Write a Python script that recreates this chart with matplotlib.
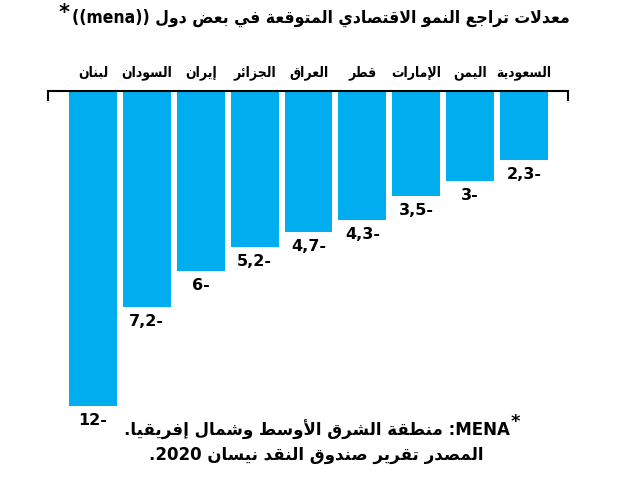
import re
import matplotlib
matplotlib.use('Agg')
import matplotlib.pyplot as plt
import numpy as np

plt.rcParams['font.family'] = ['DejaVu Sans']

# data, listed right to left as in the original chart
countries = ['السعودية', 'اليمن', 'الإمارات', 'قطر', 'العراق', 'الجزائر', 'إيران', 'السودان', 'لبنان']
growth = [-2.3, -3, -3.5, -4.3, -4.7, -5.2, -6, -7.2, -12]
title = 'معدلات تراجع النمو الاقتصادي المتوقعة في بعض دول ((mena))'
note = 'MENA: منطقة الشرق الأوسط وشمال إفريقيا.'
source = 'المصدر تقرير صندوق النقد نيسان 2020.'

# minimal arabic shaping: letter -> (first presentation form, number of forms)
FORMS = {
    'ء': (0xFE80, 1), 'آ': (0xFE81, 2), 'أ': (0xFE83, 2), 'ؤ': (0xFE85, 2),
    'إ': (0xFE87, 2), 'ئ': (0xFE89, 4), 'ا': (0xFE8D, 2), 'ب': (0xFE8F, 4),
    'ة': (0xFE93, 2), 'ت': (0xFE95, 4), 'ث': (0xFE99, 4), 'ج': (0xFE9D, 4),
    'ح': (0xFEA1, 4), 'خ': (0xFEA5, 4), 'د': (0xFEA9, 2), 'ذ': (0xFEAB, 2),
    'ر': (0xFEAD, 2), 'ز': (0xFEAF, 2), 'س': (0xFEB1, 4), 'ش': (0xFEB5, 4),
    'ص': (0xFEB9, 4), 'ض': (0xFEBD, 4), 'ط': (0xFEC1, 4), 'ظ': (0xFEC5, 4),
    'ع': (0xFEC9, 4), 'غ': (0xFECD, 4), 'ف': (0xFED1, 4), 'ق': (0xFED5, 4),
    'ك': (0xFED9, 4), 'ل': (0xFEDD, 4), 'م': (0xFEE1, 4), 'ن': (0xFEE5, 4),
    'ه': (0xFEE9, 4), 'و': (0xFEED, 2), 'ى': (0xFEEF, 2), 'ي': (0xFEF1, 4),
}
LAM_ALEF = {'آ': 0xFEF5, 'أ': 0xFEF7, 'إ': 0xFEF9, 'ا': 0xFEFB}


def shape(s):
    out = []
    i = 0
    while i < len(s):
        c = s[i]
        if c not in FORMS:
            out.append(c)
            i += 1
            continue
        prev = i > 0 and s[i - 1] in FORMS and FORMS[s[i - 1]][1] == 4
        nxt = s[i + 1] if i + 1 < len(s) else ''
        if c == 'ل' and nxt in LAM_ALEF:
            out.append(chr(LAM_ALEF[nxt] + (1 if prev else 0)))
            i += 2
            continue
        base, k = FORMS[c]
        joins_next = k == 4 and nxt in FORMS and FORMS[nxt][1] > 1
        if k == 1:
            idx = 0
        elif k == 2:
            idx = 1 if prev else 0
        else:
            idx = {(False, False): 0, (True, False): 1, (False, True): 2, (True, True): 3}[(prev, joins_next)]
        out.append(chr(base + idx))
        i += 1
    return ''.join(out)


def ar(s):
    t = shape(s)[::-1]
    t = re.sub(r'[A-Za-z0-9]+', lambda m: m.group()[::-1], t)
    return t.translate(str.maketrans('()', ')('))


blue = '#00adee'
lo = -10.5

fig = plt.figure(figsize=(6.33, 4.95), dpi=100)
ax = fig.add_axes([48 / 633, 89 / 495, 520 / 633, 315 / 495])

x = np.arange(len(countries))
ax.bar(x, growth, width=0.89, color=blue)
ax.set_xlim(8.835, -0.816)
ax.set_ylim(lo, 0)

ax.spines['bottom'].set_visible(False)
for s in ['top', 'left', 'right']:
    ax.spines[s].set_linewidth(1.5)
ax.spines['left'].set_bounds(-0.3, 0)
ax.spines['right'].set_bounds(-0.3, 0)
ax.set_xticks([])
ax.set_yticks([])
ax.patch.set_visible(False)

for i, (name, v) in enumerate(zip(countries, growth)):
    ax.annotate(ar(name), xy=(i, 0), xytext=(0, 8), textcoords='offset points',
                ha='center', va='bottom', fontsize=10, fontweight='bold',
                fontstretch='condensed')
    lbl = f'{abs(v):g}'.replace('.', ',') + '-'
    ax.annotate(lbl, xy=(i, max(v, lo)), xytext=(0, -5), textcoords='offset points',
                ha='center', va='top', fontsize=11.5, fontweight='bold',
                annotation_clip=False)

t = fig.text(0.507, 1 - 18 / 495, ar(title), ha='center', va='center',
             fontsize=12.6, fontweight='bold', fontstretch='condensed')
ax.annotate('*', xy=(0, 0.75), xycoords=t, xytext=(-2, 0), textcoords='offset points',
            ha='right', va='center', fontsize=15, fontweight='bold')

n = fig.text(0.5, 1 - 430 / 495, ar(note), ha='center', va='center',
             fontsize=12, fontweight='bold')
ax.annotate('*', xy=(1, 0.9), xycoords=n, xytext=(1, 0), textcoords='offset points',
            ha='left', va='center', fontsize=13, fontweight='bold')
fig.text(0.5, 1 - 455 / 495, ar(source), ha='center', va='center',
         fontsize=12, fontweight='bold')

fig.savefig('out.png', dpi=100)
